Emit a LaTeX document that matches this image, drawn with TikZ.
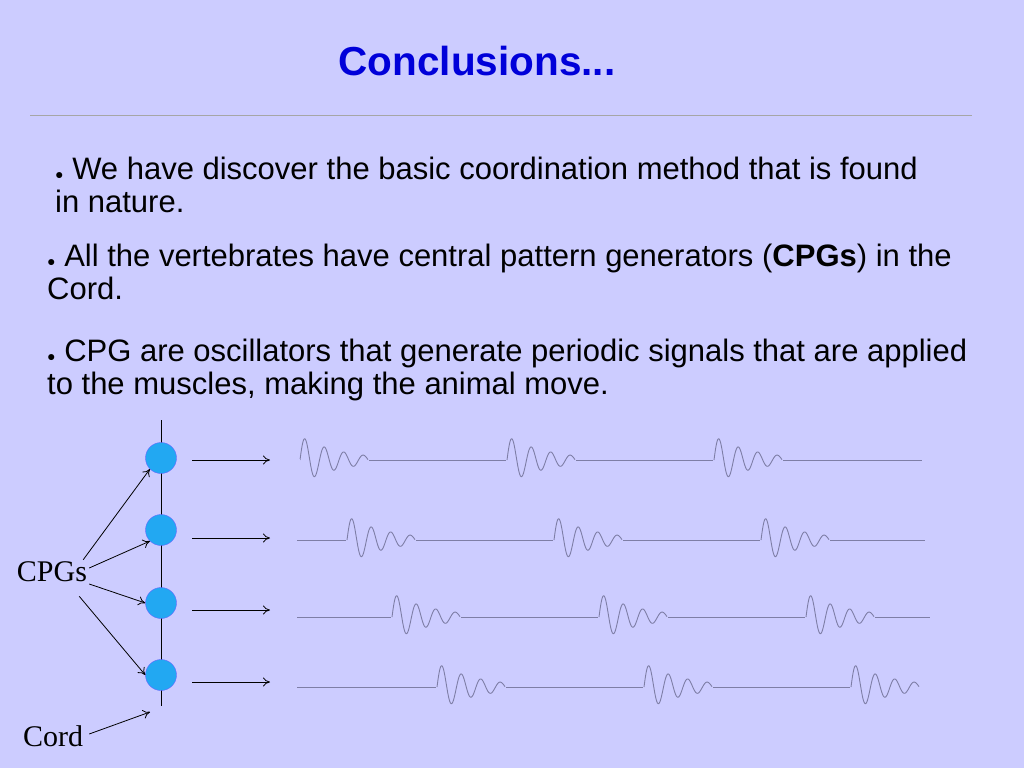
\documentclass[tikz,border=0pt]{standalone}
\usepackage{fontspec}
\setmainfont{Liberation Sans}
\newfontfamily\serifc{Liberation Serif}
\usetikzlibrary{arrows.meta}
\definecolor{bg}{HTML}{CCCCFF}
\definecolor{wave}{HTML}{7E7EA6}
\definecolor{cpg}{HTML}{22A8F2}
\newcommand{\burst}[2]{\draw[wv] plot[variable=\t,domain=0:68,samples=140,smooth] ({#1+\t},{#2-24*exp(-\t/40)*sin(\t/19.5*360)});}
\begin{document}
\begin{tikzpicture}[x=1pt,y=-1pt,
  txt/.style={anchor=base west,inner sep=0pt,font=\fontsize{31}{36}\selectfont},
  cpgnode/.style={circle,draw=blue!60,fill=cpg,minimum size=31pt,inner sep=0pt},
  arr/.style={-{To[length=7pt,width=9pt]},line width=0.8pt},
  wv/.style={draw=wave,line width=0.9pt},
  lab/.style={inner sep=0pt,font=\serifc\fontsize{30}{34}\selectfont}]
\fill[bg] (0,0) rectangle (1024,768);
\useasboundingbox (0,0) rectangle (1024,768);
\node[font=\bfseries\fontsize{40.5}{44}\selectfont,text=blue!85!black] (title) at (477,61) {Conclusions...};
\draw[gray!70,line width=0.6pt] (30,115) -- (972,115);
\node[txt] (b1) at (55,179) {\fontsize{14}{14}\selectfont●\fontsize{31}{36}\selectfont\ We have discover the basic coordination method that is found};
\node[txt] (b1b) at (55,212) {in nature.};
\node[txt] (b2) at (47,266) {\fontsize{14}{14}\selectfont●\fontsize{31}{36}\selectfont\ All the vertebrates have central pattern generators (\textbf{CPGs}) in the};
\node[txt] (b2b) at (47,299) {Cord.};
\node[txt] (b3) at (47,361) {\fontsize{14}{14}\selectfont●\fontsize{31}{36}\selectfont\ CPG are oscillators that generate periodic signals that are applied};
\node[txt] (b3b) at (47,394) {to the muscles, making the animal move.};
% cord
\draw[line width=0.6pt] (161,420) -- (161,706);
\node[cpgnode] (c1) at (161,458) {};
\node[cpgnode] (c2) at (161,530) {};
\node[cpgnode] (c3) at (161,603) {};
\node[cpgnode] (c4) at (161,675) {};
\foreach \i/\hy in {1/460,2/538,3/610,4/682}{
  \coordinate (h\i a) at (192,\hy); \coordinate (h\i b) at (270,\hy);
  \draw[arr] (h\i a) -- (h\i b);}
\node[lab] (cpgs) at (52,572) {CPGs};
\node[lab] (cord) at (53,736) {Cord};
\draw[arr] (cpgs.north east) ++(-4,-2) coordinate (p1) (p1) -- (c1.south west);
\draw[arr] (cpgs.east) ++(2,-4) coordinate (p2) (p2) -- (c2.south west);
\draw[arr] (cpgs.east) ++(2,12) coordinate (p3) (p3) -- (c3.west);
\draw[arr] (cpgs.south east) ++(-8,14) coordinate (p4) (p4) -- (c4.west);
\draw[arr] (cord.east) ++(6,-2) coordinate (p5) (p5) -- (150,712);
% waves
\foreach \bs/\by/\be in {300/460/922,347/540/925,392/617/930,437/687/917}{
  \draw[wv] (297,\by) -- (\be,\by);
  \fill[bg] (\bs-1,\by-1) rectangle (\bs+69,\by+1);
  \fill[bg] (\bs+206,\by-1) rectangle (\bs+276,\by+1);
  \fill[bg] (\bs+413,\by-1) rectangle (\bs+483,\by+1);
  \burst{\bs}{\by}\burst{\bs+207}{\by}\burst{\bs+414}{\by}
}
\fill[bg] (296,459) rectangle (299.5,461);
\end{tikzpicture}
\end{document}
